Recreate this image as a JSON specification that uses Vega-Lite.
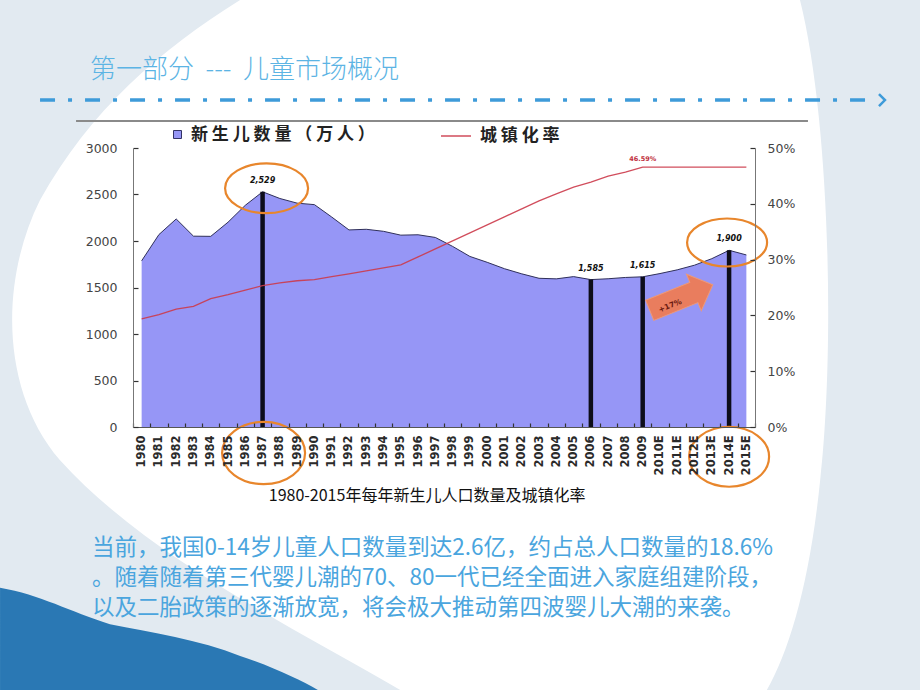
{
  "$schema": "https://vega.github.io/schema/vega-lite/v6.json",
  "width": 622,
  "height": 279,
  "autosize": {"type": "none"},
  "padding": {"left": 133, "top": 148, "right": 165, "bottom": 263},
  "background": "#E2EAF1",
  "config": {"view": {"stroke": null}, "font": "Noto Sans CJK SC"},
  "data": {
    "values": [
      {"year": "1980", "births": 1787, "urban": 0.1939},
      {"year": "1981", "births": 2069, "urban": 0.2016},
      {"year": "1982", "births": 2237, "urban": 0.2113},
      {"year": "1983", "births": 2052, "urban": 0.2162},
      {"year": "1984", "births": 2050, "urban": 0.2301},
      {"year": "1985", "births": 2202, "urban": 0.2371},
      {"year": "1986", "births": 2384, "urban": 0.2452},
      {"year": "1987", "births": 2529, "urban": 0.2532},
      {"year": "1988", "births": 2457, "urban": 0.2581},
      {"year": "1989", "births": 2407, "urban": 0.2621},
      {"year": "1990", "births": 2391, "urban": 0.2641},
      {"year": "1991", "births": 2258, "urban": 0.2694},
      {"year": "1992", "births": 2119, "urban": 0.2746},
      {"year": "1993", "births": 2126, "urban": 0.2799},
      {"year": "1994", "births": 2104, "urban": 0.2851},
      {"year": "1995", "births": 2063, "urban": 0.2904},
      {"year": "1996", "births": 2067, "urban": 0.3048},
      {"year": "1997", "births": 2038, "urban": 0.3191},
      {"year": "1998", "births": 1942, "urban": 0.3335},
      {"year": "1999", "births": 1834, "urban": 0.3478},
      {"year": "2000", "births": 1771, "urban": 0.3622},
      {"year": "2001", "births": 1702, "urban": 0.3766},
      {"year": "2002", "births": 1647, "urban": 0.3909},
      {"year": "2003", "births": 1599, "urban": 0.4053},
      {"year": "2004", "births": 1593, "urban": 0.4176},
      {"year": "2005", "births": 1617, "urban": 0.4299},
      {"year": "2006", "births": 1585, "urban": 0.4390},
      {"year": "2007", "births": 1594, "urban": 0.4494},
      {"year": "2008", "births": 1608, "urban": 0.4568},
      {"year": "2009", "births": 1615, "urban": 0.4659},
      {"year": "2010E", "births": 1650, "urban": 0.4659},
      {"year": "2011E", "births": 1690, "urban": 0.4659},
      {"year": "2012E", "births": 1740, "urban": 0.4659},
      {"year": "2013E", "births": 1810, "urban": 0.4659},
      {"year": "2014E", "births": 1900, "urban": 0.4659},
      {"year": "2015E", "births": 1850, "urban": 0.4659}
    ]
  },
  "encoding": {
    "x": {
      "field": "year",
      "type": "ordinal",
      "scale": {"type": "band", "paddingInner": 0, "paddingOuter": 0},
      "axis": {
        "title": null,
        "zindex": 1,
        "labelAngle": -90,
        "labelFont": "DejaVu Sans",
        "labelFontSize": 11.5,
        "labelFontWeight": "bold",
        "labelColor": "#2a2a2a",
        "labelPadding": 12,
        "labelOverlap": false,
        "tickBand": "extent",
        "tickSize": -4,
        "tickWidth": 1.2,
        "tickColor": "#333",
        "domainColor": "#555",
        "grid": false
      }
    }
  },
  "layer": [
    {
      "layer": [
        {
          "data": {"values": [{}]},
          "mark": {"type": "point", "shape": "M -0.478 -0.75 L 0.739 -0.75 C 0.804 -0.489 0.815 0.011 0.783 0.293 C 0.761 0.511 0.717 0.663 0.667 0.75 L -0.13 0.75 C -0.348 0.62 -0.674 0.467 -0.87 0.25 C -1 0.098 -1 -0.141 -0.913 -0.315 C -0.804 -0.511 -0.652 -0.641 -0.478 -0.75 Z", "filled": true, "fill": "#ffffff", "strokeWidth": 0, "opacity": 1, "size": 846400, "xOffset": 7.4},
          "encoding": {
            "x": {"datum": "1998", "type": "ordinal"},
            "y": {"datum": 882, "type": "quantitative", "scale": {"domain": [0, 3000], "nice": false}}
          }
        },
        {
          "data": {"values": [{}]},
          "mark": {"type": "point", "shape": "M -1 0.528 C -0.913 0.543 -0.848 0.58 -0.761 0.607 C -0.674 0.624 -0.565 0.641 -0.478 0.676 C -0.402 0.702 -0.348 0.728 -0.309 0.75 L -1 0.75 Z", "filled": true, "fill": "#2A78B4", "strokeWidth": 0, "opacity": 1, "size": 846400, "xOffset": 7.4},
          "encoding": {
            "x": {"datum": "1998", "type": "ordinal"},
            "y": {"datum": 882, "type": "quantitative", "scale": {"domain": [0, 3000], "nice": false}}
          }
        },
        {
          "mark": {"type": "area", "opacity": 1},
          "encoding": {
            "y": {
              "field": "births",
              "type": "quantitative",
              "scale": {"domain": [0, 3000], "nice": false},
              "axis": {
                "title": null,
                "zindex": 1,
                "values": [0, 500, 1000, 1500, 2000, 2500, 3000],
                "format": "d",
                "grid": false,
                "labelFont": "DejaVu Sans",
                "labelFontSize": 12.5,
                "labelColor": "#444",
                "tickSize": -5,
                "tickWidth": 1.2,
                "labelPadding": 21,
                "domainColor": "#777",
                "tickColor": "#333"
              }
            },
            "fill": {
              "datum": "新生儿数量（万人）",
              "type": "nominal",
              "scale": {"range": ["#9696F6"]},
              "legend": {
                "title": null,
                "orient": "none",
                "legendX": 36,
                "legendY": -22,
                "padding": 0,
                "symbolType": "square",
                "symbolSize": 64,
                "symbolStrokeColor": "#333366",
                "symbolStrokeWidth": 1,
                "labelFont": "Noto Sans CJK SC",
                "labelFontSize": 17,
                "labelFontWeight": "bold",
                "labelColor": "#222",
                "labelOffset": 5,
                "labelLimit": 400,
                "labelExpr": "join(split(datum.label, ''), ' ')"
              }
            }
          }
        },
        {
          "mark": {"type": "line", "color": "#30305a", "strokeWidth": 1},
          "encoding": {
            "y": {"field": "births", "type": "quantitative", "scale": {"domain": [0, 3000], "nice": false}}
          }
        },
        {
          "transform": [{"filter": "indexof(['1987','2006','2009','2014E'], datum.year) >= 0"}],
          "mark": {"type": "rule", "color": "#0d0d1a", "strokeWidth": 4.5},
          "encoding": {
            "y": {"field": "births", "type": "quantitative", "scale": {"domain": [0, 3000], "nice": false}},
            "y2": {"datum": 0}
          }
        },
        {
          "transform": [{"filter": "indexof(['1987','2006','2009','2014E'], datum.year) >= 0"}],
          "mark": {"type": "text", "font": "DejaVu Sans", "fontSize": 8, "fontWeight": "bold", "fontStyle": "italic", "color": "#111", "baseline": "middle", "dy": -11},
          "encoding": {
            "y": {"field": "births", "type": "quantitative", "scale": {"domain": [0, 3000], "nice": false}},
            "text": {"field": "births", "type": "quantitative", "format": ","}
          }
        },
        {
          "data": {"values": [{}]},
          "mark": {"type": "point", "shape": "M 1 0 C 1 0.331 0.552 0.6 0 0.6 C -0.552 0.6 -1 0.331 -1 0 C -1 -0.331 -0.552 -0.6 0 -0.6 C 0.552 -0.6 1 -0.331 1 0 Z", "filled": false, "size": 6889, "stroke": "#E8862C", "strokeWidth": 2.2, "opacity": 1, "xOffset": 4},
          "encoding": {
            "x": {"datum": "1987", "type": "ordinal"},
            "y": {"datum": 2567, "type": "quantitative", "scale": {"domain": [0, 3000], "nice": false}}
          }
        },
        {
          "data": {"values": [{}]},
          "mark": {"type": "point", "shape": "M 1 0 C 1 0.414 0.552 0.75 0 0.75 C -0.552 0.75 -1 0.414 -1 0 C -1 -0.414 -0.552 -0.75 0 -0.75 C 0.552 -0.75 1 -0.414 1 0 Z", "filled": false, "size": 6889, "stroke": "#E8862C", "strokeWidth": 2.2, "opacity": 1, "xOffset": 1},
          "encoding": {
            "x": {"datum": "1987", "type": "ordinal"},
            "y": {"datum": -280, "type": "quantitative", "scale": {"domain": [0, 3000], "nice": false}}
          }
        },
        {
          "data": {"values": [{}]},
          "mark": {"type": "point", "shape": "M 1 0 C 1 0.331 0.552 0.6 0 0.6 C -0.552 0.6 -1 0.331 -1 0 C -1 -0.331 -0.552 -0.6 0 -0.6 C 0.552 -0.6 1 -0.331 1 0 Z", "filled": false, "size": 6400, "stroke": "#E8862C", "strokeWidth": 2.2, "opacity": 1, "xOffset": -2},
          "encoding": {
            "x": {"datum": "2014E", "type": "ordinal"},
            "y": {"datum": 1984, "type": "quantitative", "scale": {"domain": [0, 3000], "nice": false}}
          }
        },
        {
          "data": {"values": [{}]},
          "mark": {"type": "point", "shape": "M 1 0 C 1 0.414 0.552 0.75 0 0.75 C -0.552 0.75 -1 0.414 -1 0 C -1 -0.414 -0.552 -0.75 0 -0.75 C 0.552 -0.75 1 -0.414 1 0 Z", "filled": false, "size": 6400, "stroke": "#E8862C", "strokeWidth": 2.2, "opacity": 1, "xOffset": 0},
          "encoding": {
            "x": {"datum": "2014E", "type": "ordinal"},
            "y": {"datum": -320, "type": "quantitative", "scale": {"domain": [0, 3000], "nice": false}}
          }
        },
        {
          "data": {"values": [{}]},
          "mark": {"type": "point", "shape": "M -1 -0.32 L 0.4 -0.32 L 0.4 -0.58 L 1 0 L 0.4 0.58 L 0.4 0.32 L -1 0.32 Z", "filled": true, "size": 4624, "fill": "#EE7C56", "stroke": "#F29A74", "strokeWidth": 1, "opacity": 0.95, "angle": 338, "xOffset": 4},
          "encoding": {
            "x": {"datum": "2011E", "type": "ordinal"},
            "y": {"datum": 1392, "type": "quantitative", "scale": {"domain": [0, 3000], "nice": false}}
          }
        },
        {
          "data": {"values": [{}]},
          "mark": {"type": "text", "text": "+17%", "font": "DejaVu Sans", "fontSize": 7.5, "fontWeight": "bold", "color": "#6a1a10", "angle": 338, "align": "center", "baseline": "middle", "xOffset": -7},
          "encoding": {
            "x": {"datum": "2011E", "type": "ordinal"},
            "y": {"datum": 1301, "type": "quantitative", "scale": {"domain": [0, 3000], "nice": false}}
          }
        },
        {
          "data": {"values": [{}]},
          "mark": {"type": "rule", "color": "#8a8a8a", "strokeWidth": 2, "xOffset": -65.6, "x2Offset": 61.6},
          "encoding": {
            "x": {"datum": "1980", "type": "ordinal"},
            "x2": {"datum": "2015E"},
            "y": {"datum": 3290, "type": "quantitative", "scale": {"domain": [0, 3000], "nice": false}}
          }
        },
        {
          "data": {"values": [{}]},
          "mark": {"type": "text", "text": "第一部分\u00a0\u00a0---\u00a0\u00a0儿童市场概况", "font": "Noto Sans CJK SC", "fontSize": 26, "fontWeight": 300, "color": "#5CB4E4", "align": "left", "baseline": "middle", "dx": -51.6},
          "encoding": {
            "x": {"datum": "1980", "type": "ordinal"},
            "y": {"datum": 3839, "type": "quantitative", "scale": {"domain": [0, 3000], "nice": false}}
          }
        },
        {
          "data": {"values": [{}]},
          "mark": {"type": "rule", "color": "#3E9BD9", "strokeWidth": 3.5, "strokeDash": [15, 13, 4, 13], "xOffset": -101.6, "x2Offset": 126.6},
          "encoding": {
            "x": {"datum": "1980", "type": "ordinal"},
            "x2": {"datum": "2015E"},
            "y": {"datum": 3516, "type": "quantitative", "scale": {"domain": [0, 3000], "nice": false}}
          }
        },
        {
          "data": {"values": [{}]},
          "mark": {"type": "point", "shape": "M -0.5 -1 L 0.5 0 L -0.5 1", "filled": false, "size": 144, "stroke": "#3E9BD9", "strokeWidth": 2.5, "opacity": 1, "xOffset": 135.6},
          "encoding": {
            "x": {"datum": "2015E", "type": "ordinal"},
            "y": {"datum": 3516, "type": "quantitative", "scale": {"domain": [0, 3000], "nice": false}}
          }
        },
        {
          "data": {"values": [{}]},
          "mark": {"type": "text", "text": "1980-2015年每年新生儿人口数量及城镇化率", "font": "Noto Sans CJK SC", "fontSize": 16, "color": "#111", "align": "center", "baseline": "middle", "dx": 9},
          "encoding": {
            "x": {"datum": "1996", "type": "ordinal"},
            "y": {"datum": -737, "type": "quantitative", "scale": {"domain": [0, 3000], "nice": false}}
          }
        },
        {
          "data": {"values": [{}]},
          "mark": {
            "type": "text",
            "text": ["当前，我国0-14岁儿童人口数量到达2.6亿，约占总人口数量的18.6%", "。随着随着第三代婴儿潮的70、80一代已经全面进入家庭组建阶段，", "以及二胎政策的逐渐放宽，将会极大推动第四波婴儿大潮的来袭。"],
            "font": "Noto Sans CJK SC",
            "fontSize": 22.5,
            "lineHeight": 30,
            "color": "#4AA5DE",
            "align": "left",
            "baseline": "middle",
            "dx": -49.6
          },
          "encoding": {
            "x": {"datum": "1980", "type": "ordinal"},
            "y": {"datum": -1301, "type": "quantitative", "scale": {"domain": [0, 3000], "nice": false}}
          }
        }
      ]
    },
    {
      "layer": [
        {
          "mark": {"type": "line", "strokeWidth": 1.3, "opacity": 0.9},
          "encoding": {
            "y": {
              "field": "urban",
              "type": "quantitative",
              "scale": {"domain": [0, 0.5], "nice": false},
              "axis": {
                "orient": "right",
                "title": null,
                "zindex": 1,
                "values": [0, 0.05, 0.1, 0.15, 0.2, 0.25, 0.3, 0.35, 0.4, 0.45, 0.5],
                "format": ".0%",
                "labelOverlap": false,
                "grid": false,
                "labelFont": "DejaVu Sans",
                "labelFontSize": 12.5,
                "labelColor": "#444",
                "tickSize": -5,
                "tickWidth": 1.2,
                "labelPadding": 17,
                "domainColor": "#777",
                "tickColor": "#333"
              }
            },
            "stroke": {
              "datum": "城镇化率",
              "type": "nominal",
              "scale": {"range": ["#CC3A4A"]},
              "legend": {
                "title": null,
                "orient": "none",
                "legendX": 307,
                "legendY": -28,
                "padding": 0,
                "symbolType": "stroke",
                "symbolSize": 900,
                "symbolStrokeWidth": 1.5,
                "labelFont": "Noto Sans CJK SC",
                "labelFontSize": 17,
                "labelFontWeight": "bold",
                "labelColor": "#222",
                "labelOffset": 8,
                "labelExpr": "join(split(datum.label, ''), ' ')"
              }
            }
          }
        },
        {
          "transform": [{"filter": "datum.year === '2009'"}],
          "mark": {"type": "text", "font": "DejaVu Sans", "fontSize": 6.5, "fontWeight": "bold", "color": "#C03040", "baseline": "middle", "dy": -8},
          "encoding": {
            "y": {"field": "urban", "type": "quantitative", "scale": {"domain": [0, 0.5], "nice": false}},
            "text": {"field": "urban", "type": "quantitative", "format": ".2%"}
          }
        }
      ]
    }
  ],
  "resolve": {"scale": {"y": "independent"}}
}
